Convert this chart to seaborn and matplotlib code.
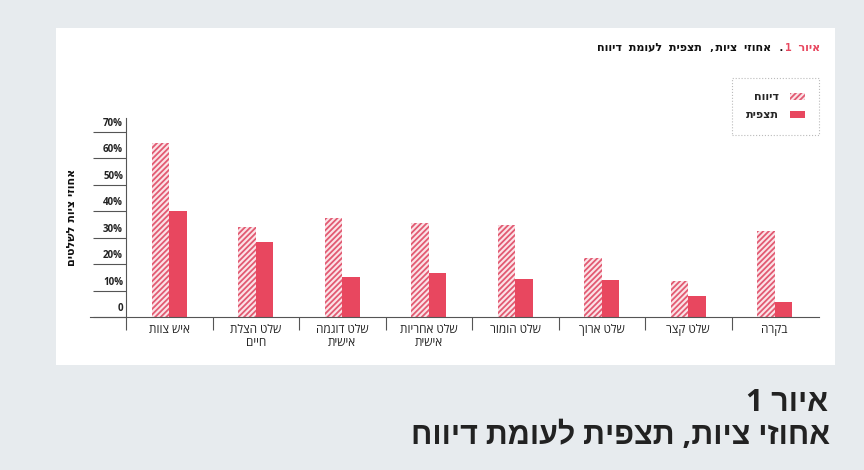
import pandas as pd
import matplotlib
matplotlib.use('Agg')
import matplotlib.pyplot as plt
import matplotlib.transforms as mtransforms
from matplotlib.patches import Rectangle, Patch
import seaborn as sns

# נתונים - אחוזי ציות לפי שלט
שלטים = ['איש צוות', 'שלט הצלת\nחיים', 'שלט דוגמה\nאישית', 'שלט אחריות\nאישית',
         'שלט הומור', 'שלט ארוך', 'שלט קצר', 'בקרה']
דיווח = [66, 34, 37.5, 35.5, 35, 22.5, 13.5, 32.5]
תצפית = [40, 28.5, 15, 16.5, 14.5, 14, 8, 5.5]
סדרות = ['דיווח', 'תצפית']
yticks = [0, 10, 20, 30, 40, 50, 60, 70]

RED = '#e8475f'
HATCH_RED = '#e25a72'
BG = '#e7ebee'
AXC = '#555555'


# matplotlib has no bidi, so flip the hebrew strings to visual order
def vis(s):
    lines = []
    for line in s.split('\n'):
        r = line[::-1]
        out, run = '', ''
        for ch in r:
            if ch.isdigit():
                run += ch
            else:
                out += run[::-1] + ch
                run = ''
        out += run[::-1]
        lines.append(out)
    return '\n'.join(lines)


df = pd.DataFrame({
    'שלט': [vis(s) for s in שלטים] * 2,
    'סוג': [סדרות[0]] * len(שלטים) + [סדרות[1]] * len(שלטים),
    'ערך': דיווח + תצפית,
})

sns.set_style('white')
plt.rcParams['font.family'] = ['Open Sans', 'Liberation Sans', 'DejaVu Sans']
plt.rcParams['hatch.linewidth'] = 1.3
plt.rcParams['hatch.color'] = HATCH_RED

fig = plt.figure(figsize=(8.64, 4.70), dpi=100)
fig.patch.set_facecolor(BG)

# white panel
W, H = 864, 470
fig.add_artist(Rectangle((56 / W, 1 - 365 / H), (835 - 56) / W, (365 - 28) / H,
                         transform=fig.transFigure, facecolor='white', edgecolor='none', zorder=0))

ax = fig.add_axes([90 / W, 1 - 317 / H, (819 - 90) / W, (317 - 118) / H])
ax.set_facecolor('none')

sns.barplot(data=df, x='שלט', y='ערך', hue='סוג', hue_order=סדרות,
            palette=['white', RED], width=0.4, saturation=1, ax=ax, legend=False)

for bar in ax.containers[0]:
    bar.set_facecolor('#fbe3e7')
    bar.set_edgecolor(HATCH_RED)
    bar.set_hatch('//////')
    bar.set_linewidth(0)
for bar in ax.containers[1]:
    bar.set_linewidth(0)

ax.set_xlim(-0.5 - 36 / 86.5, 7.5 + 1 / 86.5)
ax.set_ylim(0, 75.3)

for s in ['top', 'right']:
    ax.spines[s].set_visible(False)
ax.spines['left'].set_position(('data', -0.5))
for s in ['left', 'bottom']:
    ax.spines[s].set_color(AXC)
    ax.spines[s].set_linewidth(0.8)

# y ticks: short lines to the left, labels sitting on top of them
ax.set_yticks(yticks)
ax.set_yticklabels(['0'] + [f'{v}%' for v in yticks[1:]])
ax.tick_params(axis='y', left=True, length=33 * 0.72, width=0.8, color=AXC, pad=-30 * 0.72,
               labelsize=7, labelcolor='#222222')
offset = mtransforms.ScaledTranslation(0, 0.10, fig.dpi_scale_trans)
for lab in ax.get_yticklabels():
    lab.set_fontweight('bold')
    lab.set_transform(lab.get_transform() + offset)

# x: category separators below the baseline (none after the last category)
ax.set_xticks([i + 0.5 for i in range(-1, len(שלטים) - 1)], minor=True)
ax.tick_params(axis='x', which='minor', bottom=True, length=13 * 0.72, width=0.8, color=AXC)
ax.tick_params(axis='x', which='major', bottom=False, length=0, pad=4, labelsize=8.5,
               labelcolor='#222222')
for lab in ax.get_xticklabels():
    lab.set_linespacing(1.0)
ax.set_xlabel('')
ax.set_ylabel(vis('אחוזי ציות לשלטים'), fontsize=8, fontweight='bold', color='#111111',
              family=['DejaVu Sans'])
ax.yaxis.set_label_coords(-13 / (819 - 90), 0.5)

# legend, handle on the right
handles = [Patch(facecolor='#fbe3e7', edgecolor=HATCH_RED, hatch='//////', linewidth=0),
           Patch(facecolor=RED, edgecolor='none')]
leg = ax.legend(handles, [vis(s) for s in סדרות], loc='upper right',
                bbox_to_anchor=(819 / W, 1 - 78 / H), bbox_transform=fig.transFigure,
                borderaxespad=0, markerfirst=False, frameon=True, fancybox=False,
                handlelength=1.3, handleheight=0.6, borderpad=1.3, labelspacing=0.7,
                handletextpad=1.0,
                prop={'family': ['DejaVu Sans Mono', 'DejaVu Sans'], 'weight': 'bold', 'size': 8})
leg.get_frame().set_linestyle(':')
leg.get_frame().set_edgecolor('#aaaaaa')
leg.get_frame().set_linewidth(0.8)

# small title inside the panel: red "איור 1" + black rest
mono = ['DejaVu Sans Mono', 'DejaVu Sans']
t_red = fig.text(820 / W, 1 - 48 / H, vis('איור 1'), ha='right', va='center', fontsize=8,
                 fontweight='bold', color=RED, family=mono)
fig.canvas.draw()
bb = t_red.get_window_extent()
fig.text(bb.x0 / W, 1 - 48 / H, vis('. אחוזי ציות, תצפית לעומת דיווח'), ha='right', va='center',
         fontsize=8, fontweight='bold', color='#111111', family=mono)

# big caption under the panel
fig.text(828 / W, 1 - 403 / H, vis('איור 1'), ha='right', va='center', fontsize=22,
         fontweight='bold', color='#222222')
fig.text(830 / W, 1 - 436 / H, vis('אחוזי ציות, תצפית לעומת דיווח'), ha='right', va='center',
         fontsize=22, fontweight='bold', color='#222222')

fig.savefig('out.png', dpi=100, facecolor=BG)
